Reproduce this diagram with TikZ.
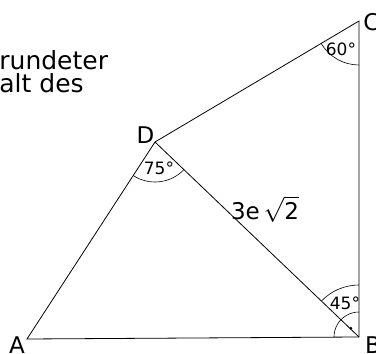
\documentclass[tikz,border=0pt]{standalone}
\usepackage{amsmath,amssymb}
\usepackage{xcolor}
\usepackage{fontspec}
\setmainfont{DejaVu Sans}
\usepackage{tikz}
\usetikzlibrary{angles}

\begin{document}
\begin{tikzpicture}[x=1pt, y=1pt, line width=0.8pt,
    pt/.style={font=\fontsize{23}{27}\selectfont, inner sep=0pt},
    deg/.style={font=\fontsize{17}{19}\selectfont, inner sep=0pt},
    txt/.style={font=\fontsize{25}{29}\selectfont, inner sep=0pt, anchor=base west},
    arcs/.style={draw, line width=0.6pt}]
  \useasboundingbox (0,0) rectangle (376,354);
  % corners
  \coordinate (A) at (27,15);
  \coordinate (B) at (359,17);
  \coordinate (C) at (359,333);
  \coordinate (D) at (155,212);
  % sides
  \draw (A) -- (B) -- (C) -- (D) -- cycle;
  \draw (D) -- (B);
  % angles
  \pic[arcs, angle radius=44pt] {angle = D--C--B};
  \pic[arcs, angle radius=40pt] {angle = A--D--B};
  \pic[arcs, angle radius=52pt] {angle = C--B--D};
  \pic[arcs, angle radius=25pt] {angle = C--B--A};
  \fill (B) ++(133:12) circle (1.5pt);
  % labels
  \node[pt] (lA) at (17,9)      {A};
  \node[pt] (lB) at (373,9)     {B};
  \node[pt] (lC) at (371.5,332) {C};
  \node[pt] (lD) at (145.5,219) {D};
  \node[deg] (aC) at (341,305) {60°};
  \node[deg] (aD) at (159,186) {75°};
  \node[deg] (aB) at (345,51)  {45°};
  \node[pt] (sBD) at (265,145) {3e\,$\sqrt{\mbox{2}}$};
  \node[txt] (t1) at (-1,284) {rundeter};
  \node[txt] (t2) at (-1,261) {alt des};
\end{tikzpicture}
\end{document}
